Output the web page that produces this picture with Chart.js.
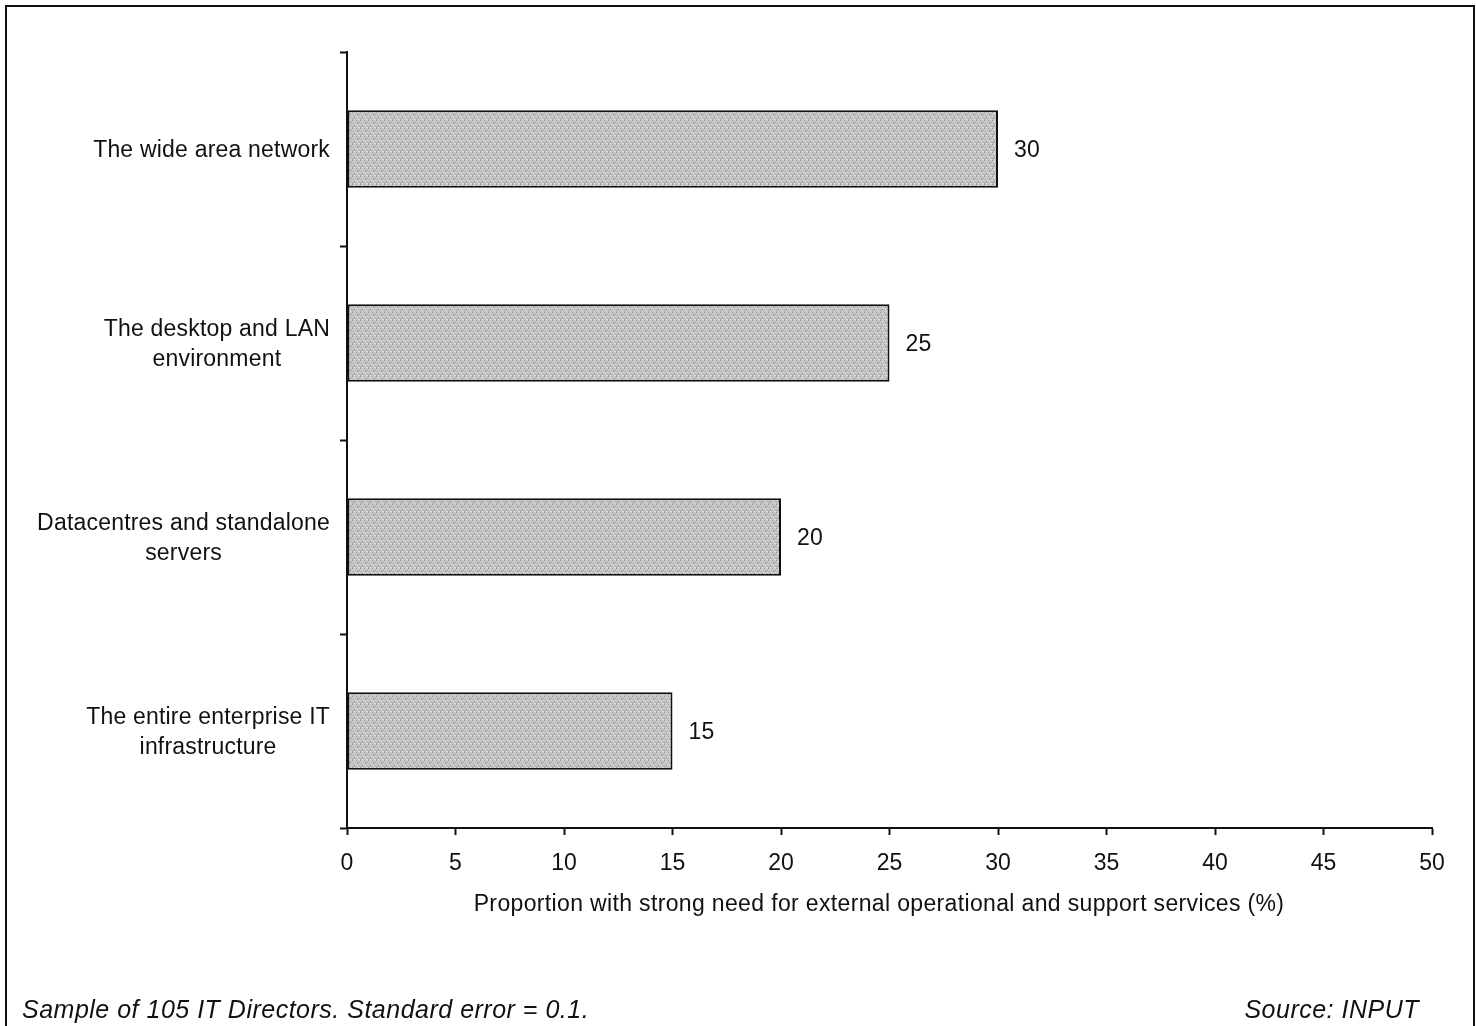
<!DOCTYPE html>
<html lang="en">
<head>
    <meta charset="UTF-8">
    <title>External operational and support services</title>
    <script src="https://cdn.jsdelivr.net/npm/chart.js@4.4.1/dist/chart.umd.min.js"></script>
    <style>
        body { margin: 0; background: #fff; }
        canvas { display: block; }
    </style>
</head>
<body>
    <canvas id="needChart" width="1476" height="1026"></canvas>

    <script>
        // chart data
        const categories = [
            ['The wide area network'],
            ['The desktop and LAN', 'environment'],
            ['Datacentres and standalone', 'servers'],
            ['The entire enterprise IT', 'infrastructure']
        ];
        const values = [30, 25, 20, 15];
        const xTicks = [0, 5, 10, 15, 20, 25, 30, 35, 40, 45, 50];

        const axisTitle = 'Proportion with strong need for external operational and support services (%)';
        const footnote = 'Sample of 105 IT Directors. Standard error = 0.1.';
        const sourceNote = 'Source: INPUT';

        const FONT = '"Liberation Sans", Arial, Helvetica, sans-serif';
        const SIZE = 23;

        // stippled grey fill for the bars
        function makeStipple() {
            const c = document.createElement('canvas');
            c.width = 8; c.height = 8;
            const g = c.getContext('2d');
            g.fillStyle = '#c8c8c8';
            g.fillRect(0, 0, 8, 8);
            const dots = [
                [0, 0, '#909090'], [2, 1, '#e4e4e4'], [4, 0, '#a0a0a0'], [6, 2, '#848484'],
                [1, 3, '#aaaaaa'], [3, 4, '#e6e6e6'], [5, 3, '#989898'], [7, 5, '#acacac'],
                [0, 6, '#9c9c9c'], [2, 5, '#747474'], [4, 6, '#a8a8a8'], [6, 7, '#e2e2e2'],
                [1, 7, '#b4b4b4'], [5, 5, '#e0e0e0'], [3, 2, '#b0b0b0'], [7, 1, '#b6b6b6']
            ];
            dots.forEach(([x, y, col]) => { g.fillStyle = col; g.fillRect(x, y, 1, 1); });
            return c;
        }

        const ctx = document.getElementById('needChart').getContext('2d');
        const stipple = ctx.createPattern(makeStipple(), 'repeat');

        const decorations = {
            id: 'decorations',
            beforeDraw(chart) {
                const c = chart.ctx;
                c.save();
                c.fillStyle = '#ffffff';
                c.fillRect(0, 0, chart.width, chart.height);
                c.restore();
            },
            afterDraw(chart) {
                const c = chart.ctx;
                const yScale = chart.scales.y;
                const xScale = chart.scales.x;
                c.save();

                // frame round the figure
                c.strokeStyle = '#111';
                c.lineWidth = 2;
                c.beginPath();
                c.moveTo(6, chart.height + 5);
                c.lineTo(6, 6);
                c.lineTo(1474, 6);
                c.lineTo(1474, chart.height + 5);
                c.stroke();

                // category labels, centred lines in a right-aligned block
                c.font = SIZE + 'px ' + FONT;
                c.letterSpacing = '0.2px';
                c.fillStyle = '#111';
                c.textBaseline = 'middle';
                const rightEdge = 330;
                categories.forEach((lines, i) => {
                    const yc = yScale.getPixelForValue(i) + 2;
                    const widths = lines.map(t => c.measureText(t).width);
                    const blockW = Math.max(...widths);
                    const mid = rightEdge - blockW / 2;
                    const lh = 30;
                    const y0 = yc - (lines.length - 1) * lh / 2;
                    c.textAlign = 'center';
                    lines.forEach((t, k) => c.fillText(t, mid, y0 + k * lh));
                });

                // value labels beside the bars
                c.textAlign = 'left';
                values.forEach((v, i) => {
                    c.fillText(String(v), xScale.getPixelForValue(v) + 16, yScale.getPixelForValue(i) + 2);
                });

                // x axis title
                c.letterSpacing = '0.35px';
                c.textAlign = 'center';
                c.fillText(axisTitle, 879, 905);

                // footer
                c.font = 'italic 25px ' + FONT;
                c.letterSpacing = '0.5px';
                c.textBaseline = 'alphabetic';
                c.textAlign = 'left';
                c.fillText(footnote, 22, 1018);
                c.textAlign = 'right';
                c.fillText(sourceNote, 1419, 1018);
                c.restore();
            }
        };

        new Chart(ctx, {
            type: 'bar',
            data: {
                labels: categories,
                datasets: [{
                    data: values,
                    backgroundColor: stipple,
                    borderColor: '#111',
                    borderWidth: 2,
                    borderSkipped: false,
                    barPercentage: 0.4,
                    categoryPercentage: 1.0
                }]
            },
            options: {
                indexAxis: 'y',
                responsive: false,
                animation: false,
                devicePixelRatio: 1,
                layout: { padding: { top: 52, right: 44, bottom: 109, left: 0 } },
                plugins: {
                    legend: { display: false },
                    tooltip: { enabled: false }
                },
                scales: {
                    x: {
                        min: 0,
                        max: 50,
                        afterBuildTicks(scale) {
                            scale.ticks = xTicks.map(v => ({ value: v }));
                        },
                        afterFit(scale) { scale.height = 89; },
                        grid: {
                            drawOnChartArea: false,
                            drawTicks: true,
                            tickLength: 7,
                            tickWidth: 2,
                            tickColor: '#111'
                        },
                        border: { display: true, color: '#111', width: 2 },
                        ticks: {
                            color: '#111',
                            padding: 15,
                            maxRotation: 0,
                            font: { family: FONT, size: SIZE }
                        }
                    },
                    y: {
                        offset: true,
                        afterFit(scale) { scale.width = 347; },
                        grid: {
                            offset: true,
                            drawOnChartArea: false,
                            drawTicks: true,
                            tickLength: 7,
                            tickWidth: 2,
                            tickColor: '#111'
                        },
                        border: { display: true, color: '#111', width: 2 },
                        ticks: { display: false }
                    }
                }
            },
            plugins: [decorations]
        });
    </script>
</body>
</html>
